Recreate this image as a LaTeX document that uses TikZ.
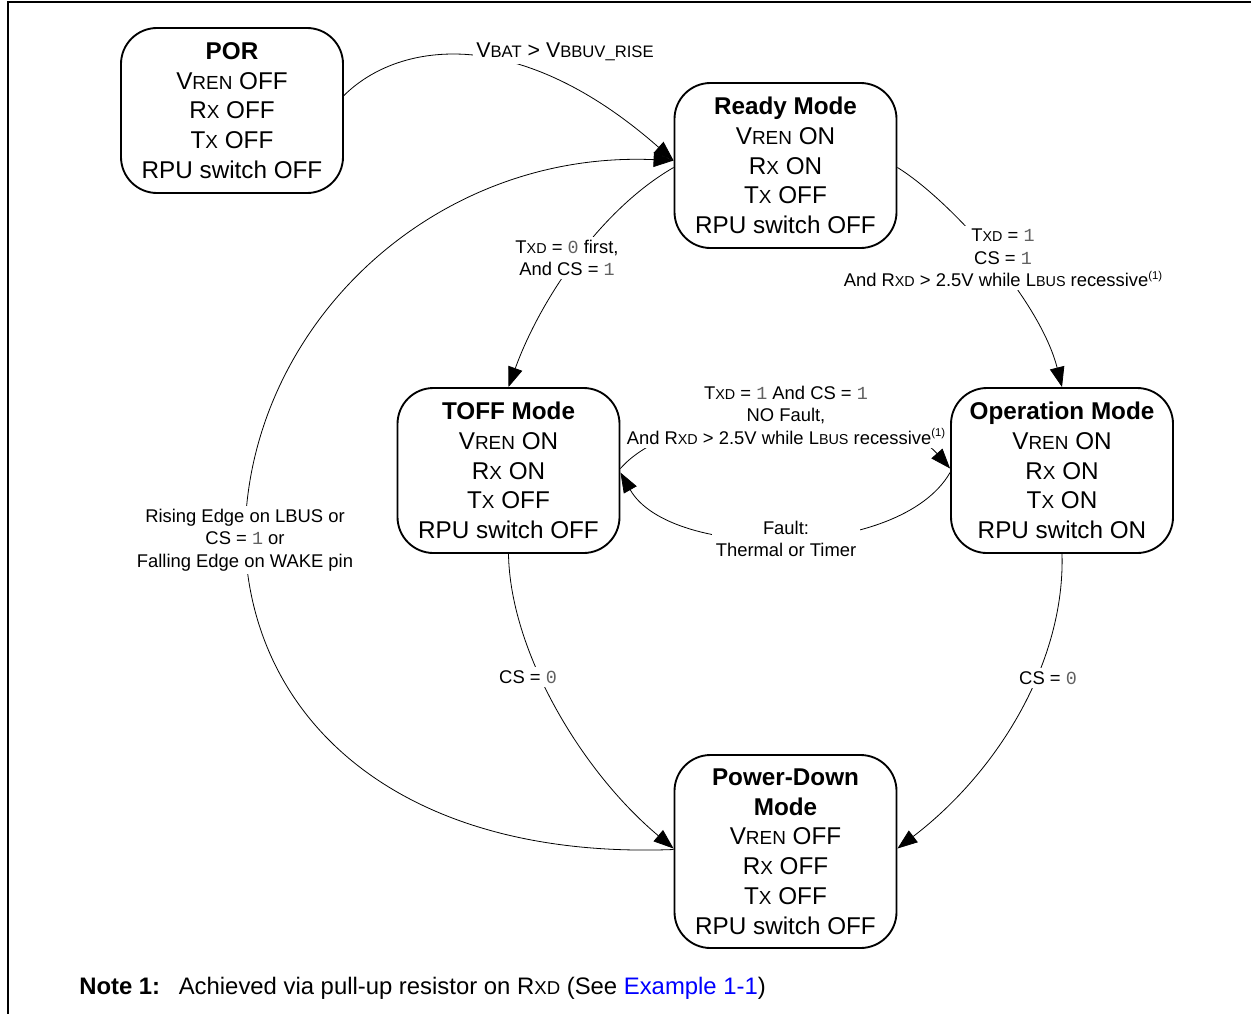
\documentclass[tikz,border=0pt]{standalone}
\usepackage{fontspec}
\setmainfont{Liberation Sans}
\newfontfamily\mono{Liberation Mono}
\usetikzlibrary{arrows.meta,calc}
\makeatletter
\newcommand\sm[1]{{\fontsize{\fpeval{0.78*\f@size}}{\fpeval{0.9*\f@size}}\selectfont #1}}
\makeatother
\newcommand\dg[1]{{\mono\color{black!62}#1}}
\newcommand\supone{\raisebox{0.8ex}{\fontsize{8.5}{9}\selectfont(1)}}
\newcommand\boxfont{\fontsize{18.2}{22.3}\selectfont}
\newcommand\lblfont{\fontsize{13.8}{16.9}\selectfont}
\pgfdeclarelayer{bg}\pgfsetlayers{bg,main}
\tikzset{
 state/.style={draw, line width=1.4pt, rounded corners=27pt, fill=white,
   minimum width=166.5pt, minimum height=123.75pt, inner sep=0pt, align=center, font=\boxfont},
 lbl/.style={fill=white, inner sep=2.5pt, align=center, font=\lblfont},
 conn/.style={line width=0.6pt},
 arr/.style={conn, -{Triangle[length=15pt,width=11pt]}},
 frame/.style={line width=1.5pt}
}
\begin{document}
\begin{tikzpicture}[x=0.75pt,y=-0.75pt]
\useasboundingbox (0,0) rectangle (1251,1014);
\draw[frame] (1251,2) -- (8,2) -- (8,1014);

% labels (drawn below the states)
\node[lbl, font=\fontsize{16}{19}\selectfont] (l1) at (565,52) {V\sm{BAT} > V\sm{BBUV\_RISE}};
\node[lbl] (l2) at (567,258) {T\sm{XD} = \dg{0} first,\\And CS = \dg{1}};
\node[lbl] (l3) at (1003,258) {T\sm{XD} = \dg{1}\\CS = \dg{1}\\And R\sm{XD} > 2.5V while L\sm{BUS} recessive\supone};
\node[lbl] (l4) at (786,415) {T\sm{XD} = \dg{1} And CS = \dg{1}\\NO Fault,\\And R\sm{XD} > 2.5V while L\sm{BUS} recessive\supone};
\node[lbl] (l5) at (786,539) {Fault:\\Thermal or Timer};
\node[lbl] (l6) at (528,677) {CS = \dg{0}};
\node[lbl] (l7) at (1048,678) {CS = \dg{0}};
\node[lbl] (l8) at (245,540) {Rising Edge on LBUS or\\CS = \dg{1} or\\Falling Edge on WAKE pin};

% states
\node[state] (por) at (232,110.5) {\textbf{POR}\\V\sm{REN} OFF\\R\sm{X} OFF\\T\sm{X} OFF\\RPU switch OFF};
\node[state] (ready) at (785.5,165.5) {\textbf{Ready Mode}\\V\sm{REN} ON\\R\sm{X} ON\\T\sm{X} OFF\\RPU switch OFF};
\node[state] (toff) at (508.5,470.5) {\textbf{TOFF Mode}\\V\sm{REN} ON\\R\sm{X} ON\\T\sm{X} OFF\\RPU switch OFF};
\node[state] (op) at (1062,470.5) {\textbf{Operation Mode}\\V\sm{REN} ON\\R\sm{X} ON\\T\sm{X} ON\\RPU switch ON};
\node[state, minimum height=144.75pt] (pd) at (785.5,851.5) {\textbf{Power-Down}\\\textbf{Mode}\\V\sm{REN} OFF\\R\sm{X} OFF\\T\sm{X} OFF\\RPU switch OFF};

% note
\node[anchor=base west, inner sep=0pt, font=\fontsize{17.9}{21}\selectfont] (note) at (79,994)
  {\textbf{Note 1:}\hspace{14pt}Achieved via pull-up resistor on R\sm{XD} (See \textcolor{blue}{Example 1-1})};

\begin{pgfonlayer}{bg}
\draw[arr] ($(por.east)+(0,-15)$) .. controls (400,40) and (520,25) .. ($(ready.west)+(0,-5)$);
\draw[arr] ($(ready.west)+(0,2)$) .. controls (600,210) and (540,300) .. (toff.north);
\draw[arr] ($(ready.east)+(0,2)$) .. controls (950,200) and (1040,300) .. (op.north);
\draw[arr] ($(toff.east)+(0,-2)$) .. controls (680,400) and (890,400) .. ($(op.west)+(0,-2)$);
\draw[arr] ($(op.west)+(0,2)$) .. controls (900,560) and (670,560) .. ($(toff.east)+(0,2)$);
\draw[arr] (toff.south) .. controls (510,650) and (580,770) .. ($(pd.west)+(0,-3)$);
\draw[arr] (op.south) .. controls (1065,660) and (1000,770) .. ($(pd.east)+(0,-3)$);
\draw[arr] ($(pd.west)+(0,-2)$) .. controls (400,860) and (250,720) .. (l8.center)
   .. controls (245,330) and (430,150) .. ($(ready.west)+(0,-5)$);
\end{pgfonlayer}
\end{tikzpicture}
\end{document}
